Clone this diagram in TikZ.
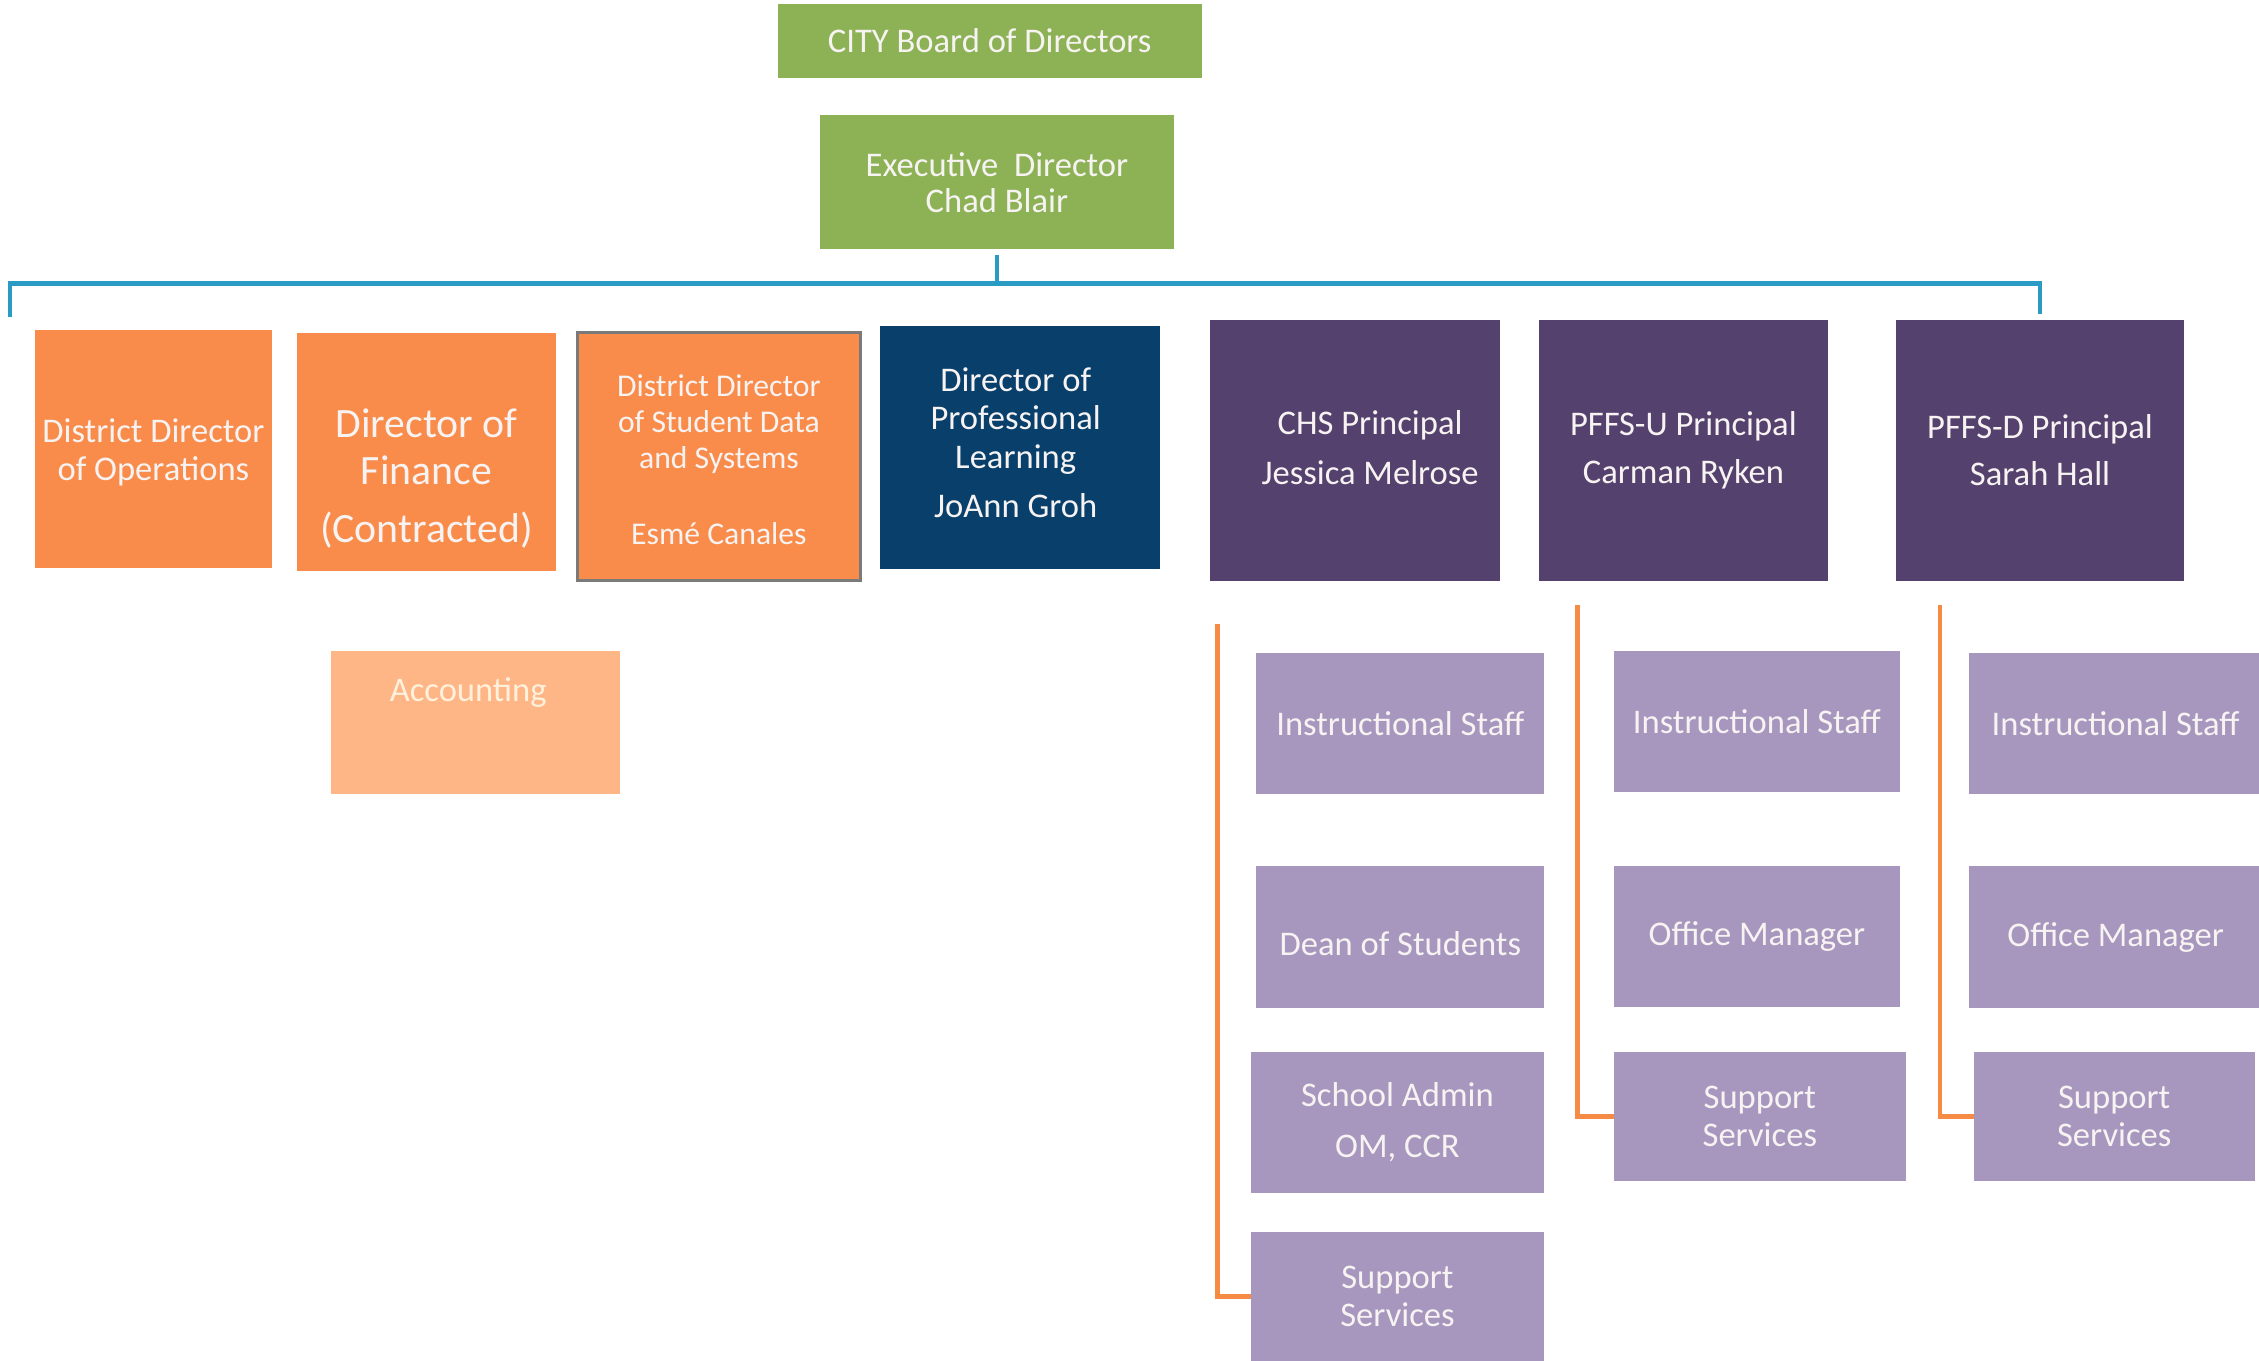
\documentclass[tikz,border=0pt]{standalone}
\usepackage{fontspec}
\setmainfont{Carlito}
\definecolor{grn}{HTML}{8DB255}
\definecolor{org}{HTML}{F98C4B}
\definecolor{lorg}{HTML}{FEB686}
\definecolor{dblue}{HTML}{083F6B}
\definecolor{dpurp}{HTML}{55416D}
\definecolor{lpurp}{HTML}{A797BE}
\definecolor{teal}{HTML}{2A9CC4}
\definecolor{oline}{HTML}{F68B45}
\definecolor{txtc}{HTML}{F6F3F2}
\definecolor{acctxt}{HTML}{FFF1DC}
\definecolor{bordr}{HTML}{7A7A7A}
\begin{document}
\begin{tikzpicture}[x=1pt,y=-1pt,
  box/.style={draw=none, inner sep=0pt, outer sep=0pt, anchor=north west,
    align=center, text=txtc, font=\fontsize{24}{26}\selectfont},
  txt/.style={inner sep=0pt, align=center, text=txtc, font=\fontsize{24}{26}\selectfont},
  blueline/.style={draw=teal, line width=3.3pt},
  orgline/.style={draw=oline, line width=3pt},
  ]
\useasboundingbox (0,0) rectangle (1568,944);
\fill[white] (0,0) rectangle (1568,944);

% top level
\node[box, fill=grn, minimum width=294pt, minimum height=51pt] (city) at (540,3) {CITY Board of Directors};
\node[box, fill=grn, minimum width=246pt, minimum height=93pt, font=\fontsize{24}{25}\selectfont] (exec) at (569,80) {Executive\ \ Director\\Chad Blair};

% second row
\node[box, fill=org, minimum width=165pt, minimum height=165pt] (ops) at (24,229) {};
\node[txt, font=\fontsize{24}{27}\selectfont] (opst) at (106.5,314) {District Director\\of Operations};
\node[box, fill=org, minimum width=180pt, minimum height=165pt] (fin) at (206,231) {};
\node[txt, font=\fontsize{29}{33}\selectfont] (fint) at (296,332) {Director of\\Finance\\[7pt](Contracted)};
\node[box, fill=org, draw=bordr, line width=2pt, minimum width=196pt, minimum height=172pt] (sd) at (401,231) {};
\node[txt, font=\fontsize{22}{25}\selectfont] (sdt) at (499,319) {District Director\\of Student Data\\and Systems\\[28pt]Esmé Canales};
\node[box, fill=dblue, minimum width=194pt, minimum height=169pt] (prof) at (611,226) {};
\node[txt, font=\fontsize{24}{26.5}\selectfont] (proft) at (705,307.5) {Director of\\Professional\\Learning\\[8pt]JoAnn Groh};
\node[box, fill=dpurp, minimum width=201pt, minimum height=181pt] (chs) at (840,222) {};
\node[txt] (chst) at (951,310.5) {CHS Principal\\[9pt]Jessica Melrose};
\node[box, fill=dpurp, minimum width=201pt, minimum height=181pt] (pfu) at (1068,222) {PFFS-U Principal\\[7pt]Carman Ryken};
\node[box, fill=dpurp, minimum width=200pt, minimum height=181pt] (pfd) at (1316,222) {PFFS-D Principal\\[7pt]Sarah Hall};

% accounting
\node[box, fill=lorg, minimum width=200pt, minimum height=99pt] (acc) at (230,452) {};
\node[txt, text=acctxt] (acct) at (325,481) {Accounting};

% CHS column
\node[box, fill=lpurp, minimum width=200pt, minimum height=98pt] (is1) at (872,453) {Instructional Staff};
\node[box, fill=lpurp, minimum width=200pt, minimum height=99pt] (dean) at (872,601) {};
\node[txt] (deant) at (972,655) {Dean of Students};
\node[box, fill=lpurp, minimum width=204pt, minimum height=98pt] (adm) at (868,730) {School Admin\\[9pt]OM, CCR};
\node[box, fill=lpurp, minimum width=204pt, minimum height=90pt] (sup1) at (868,855) {Support\\Services};

% PFFS-U column
\node[box, fill=lpurp, minimum width=199pt, minimum height=98pt] (is2) at (1120,452) {Instructional Staff};
\node[box, fill=lpurp, minimum width=199pt, minimum height=98pt] (om2) at (1120,601) {Office Manager};
\node[box, fill=lpurp, minimum width=203pt, minimum height=90pt] (sup2) at (1120,730) {Support\\Services};

% PFFS-D column
\node[box, fill=lpurp, minimum width=203pt, minimum height=98pt] (is3) at (1367,453) {Instructional Staff};
\node[box, fill=lpurp, minimum width=203pt, minimum height=99pt] (om3) at (1367,601) {Office Manager};
\node[box, fill=lpurp, minimum width=195pt, minimum height=90pt] (sup3) at (1370,730) {Support\\Services};

% blue bus
\coordinate (busL) at (7,197);
\coordinate (busR) at (1416,197);
\coordinate (dropL) at (7,220);
\coordinate (dropR) at (1416,218);
\draw[blueline] ([yshift=-4pt]exec.south) -- (exec.south |- busL);
\draw[blueline] (dropL) -- (busL) -- (busR) -- (dropR);

% orange connectors
\coordinate (c1) at (845,433);
\coordinate (c2) at (1095,420);
\coordinate (c3) at (1346.5,420);
\draw[orgline] (c1) -- (c1 |- sup1.west) -- (sup1.west);
\draw[orgline] (c2) -- (c2 |- sup2.west) -- (sup2.west);
\draw[orgline] (c3) -- (c3 |- sup3.west) -- (sup3.west);
\end{tikzpicture}
\end{document}
